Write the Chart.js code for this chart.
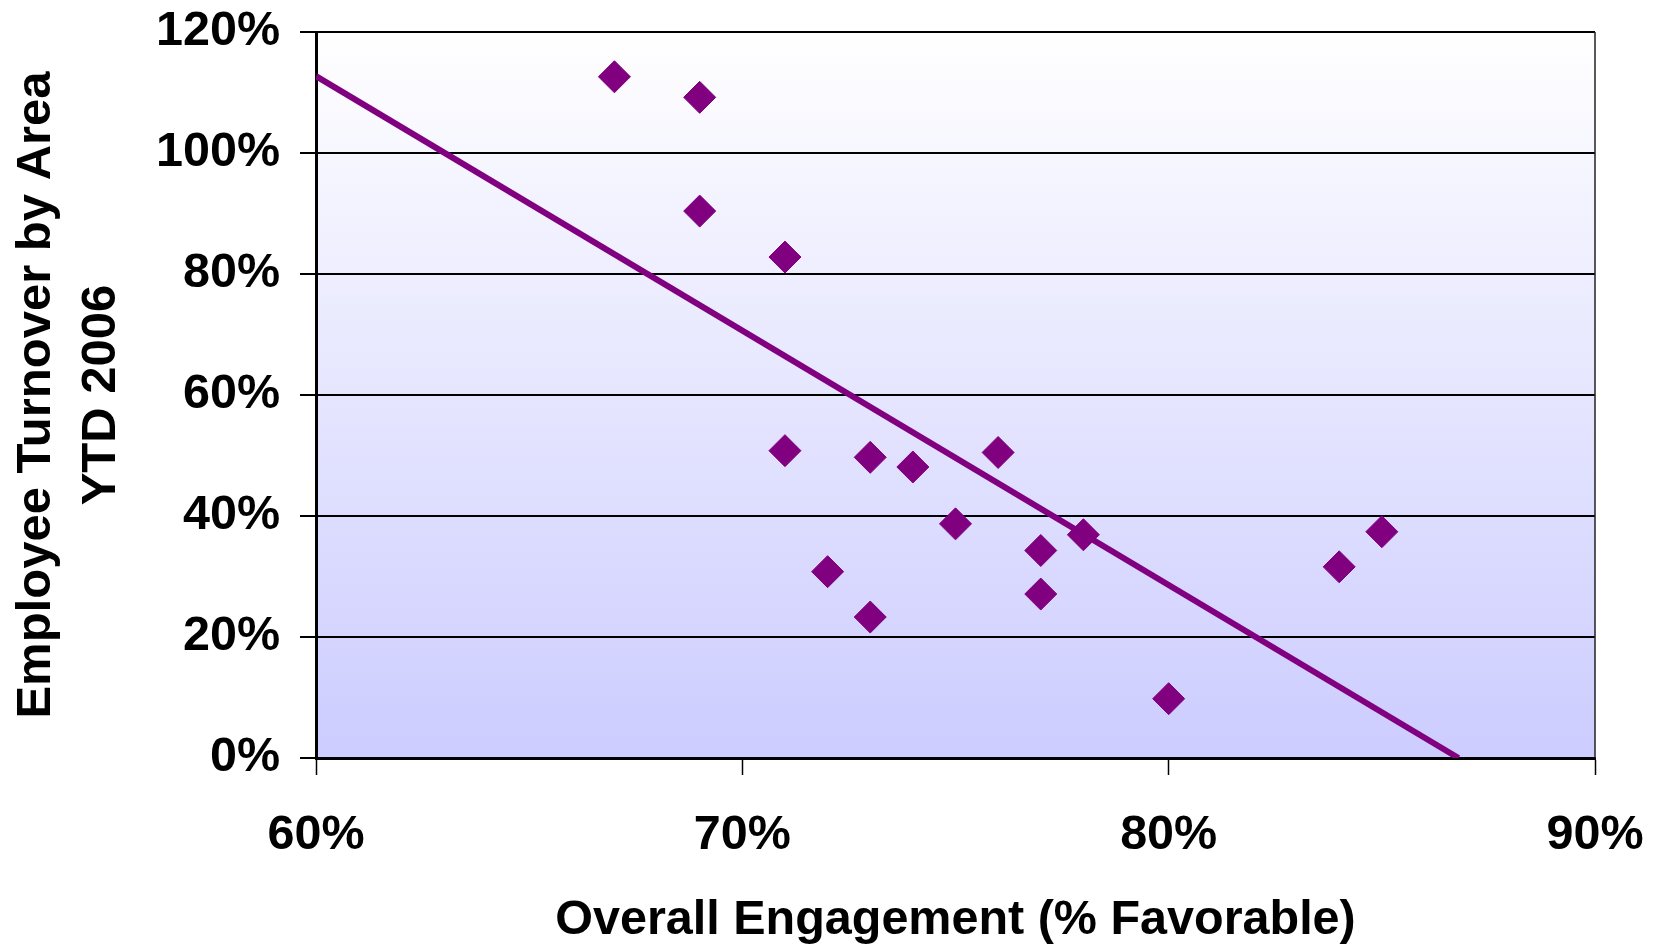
<!DOCTYPE html>
<html>
<head>
<meta charset="utf-8">
<script src="https://cdn.jsdelivr.net/npm/chart.js@4/dist/chart.umd.min.js"></script>
<style>
  html, body { margin: 0; padding: 0; background: #fff; }
  #wrap { width: 1658px; height: 947px; }
</style>
</head>
<body>
<div id="wrap"><canvas id="turnoverChart" width="1658" height="947"></canvas></div>
<script>
// Engagement vs turnover, values in percent
const engagement = [67, 69, 69, 71, 71, 73, 74, 76, 75, 72, 73, 77, 77, 78, 80, 84, 85];
const turnover = [112.6, 109.2, 90.4, 82.8, 50.8, 49.7, 48.1, 50.5, 38.7, 30.8, 23.3, 34.3, 27.1, 36.9, 9.8, 31.6, 37.4];

// trend line ends
const trendX = [60, 86.8];
const trendY = [112.7, 0];

const xTicks = [60, 70, 80, 90];
const yTicks = [0, 20, 40, 60, 80, 100, 120];

const FONT = '"Liberation Sans", Arial, sans-serif';
const PURPLE = '#800080';

function toPoints(xs, ys) {
    return xs.map((x, i) => ({ x: x, y: ys[i] }));
}

// gradient plot area + thin right border, like the Excel original
const plotBackground = {
    id: 'plotBackground',
    beforeDraw(chart) {
        const { ctx, chartArea: a } = chart;
        const grad = ctx.createLinearGradient(0, a.top, 0, a.bottom);
        grad.addColorStop(0, '#ffffff');
        grad.addColorStop(1, '#ccccff');
        ctx.save();
        ctx.fillStyle = grad;
        ctx.fillRect(a.left, a.top, a.right - a.left, a.bottom - a.top);
        ctx.restore();
    },
    afterDraw(chart) {
        const { ctx, chartArea: a } = chart;
        ctx.save();
        ctx.strokeStyle = '#222';
        ctx.lineWidth = 1.5;
        ctx.beginPath();
        ctx.moveTo(a.right, a.top);
        ctx.lineTo(a.right, a.bottom);
        ctx.stroke();
        ctx.restore();
    }
};

const ctx = document.getElementById('turnoverChart').getContext('2d');
new Chart(ctx, {
    type: 'scatter',
    data: {
        datasets: [{
            label: 'Areas',
            data: toPoints(engagement, turnover),
            pointStyle: 'rectRot',
            pointRadius: 16,
            pointBackgroundColor: PURPLE,
            pointBorderColor: PURPLE,
            pointBorderWidth: 1,
            order: 0
        }, {
            label: 'Trend',
            type: 'line',
            data: toPoints(trendX, trendY),
            borderColor: PURPLE,
            borderWidth: 6,
            pointRadius: 0,
            fill: false,
            tension: 0,
            order: 1
        }]
    },
    options: {
        responsive: false,
        animation: false,
        layout: { padding: { top: 32, right: 63, bottom: 0, left: 0 } },
        plugins: {
            legend: { display: false },
            tooltip: { enabled: false }
        },
        scales: {
            x: {
                type: 'linear',
                min: 60,
                max: 90,
                afterBuildTicks: scale => { scale.ticks = xTicks.map(v => ({ value: v })); },
                afterFit: scale => {
                    scale.height = 189;
                    scale.paddingLeft = 0;
                    scale.paddingRight = 0;
                },
                grid: {
                    drawOnChartArea: false,
                    drawTicks: true,
                    tickLength: 17,
                    tickWidth: 1.5,
                    tickColor: '#000'
                },
                border: { color: '#000', width: 3 },
                ticks: {
                    padding: 32,
                    color: '#000',
                    font: { family: FONT, size: 48.5, weight: 'bold' },
                    callback: v => v + '%'
                },
                title: {
                    display: true,
                    text: 'Overall Engagement (% Favorable)',
                    color: '#000',
                    font: { family: FONT, size: 48.5, weight: 'bold', lineHeight: 1.1 },
                    padding: { top: 0, bottom: 0 }
                }
            },
            y: {
                type: 'linear',
                min: 0,
                max: 120,
                afterBuildTicks: scale => { scale.ticks = yTicks.map(v => ({ value: v })); },
                afterFit: scale => {
                    scale.width = 316;
                    scale.paddingTop = 0;
                    scale.paddingBottom = 0;
                },
                grid: {
                    color: '#000',
                    lineWidth: 2,
                    drawTicks: true,
                    tickLength: 16,
                    tickWidth: 2,
                    tickColor: '#000'
                },
                border: { color: '#000', width: 3 },
                ticks: {
                    padding: 20,
                    color: '#000',
                    font: { family: FONT, size: 48.5, weight: 'bold' },
                    callback: v => v + '%'
                },
                title: {
                    display: true,
                    text: ['Employee Turnover by Area', 'YTD 2006'],
                    color: '#000',
                    font: { family: FONT, size: 49, weight: 'bold', lineHeight: 1.33 },
                    padding: { top: 4, bottom: 0 }
                }
            }
        }
    },
    plugins: [plotBackground]
});
</script>
</body>
</html>
